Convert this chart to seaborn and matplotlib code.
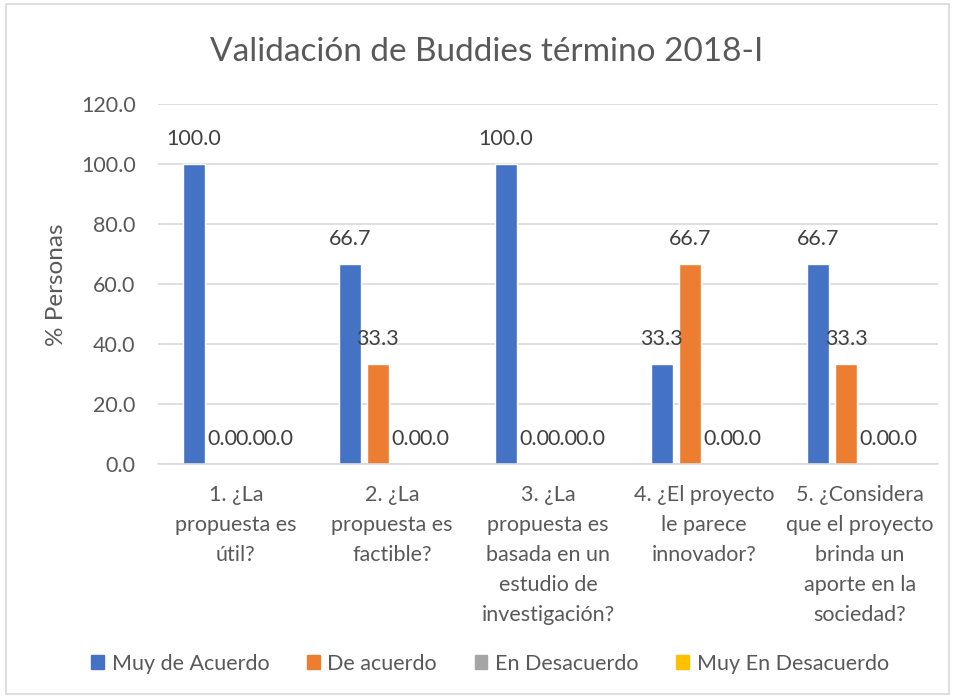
import matplotlib
matplotlib.use("Agg")
import matplotlib.pyplot as plt
import matplotlib.patches as mpatches
import seaborn as sns
import pandas as pd

categories = [
    "1. ¿La\npropuesta es\nútil?",
    "2. ¿La\npropuesta es\nfactible?",
    "3. ¿La\npropuesta es\nbasada en un\nestudio de\ninvestigación?",
    "4. ¿El proyecto\nle parece\ninnovador?",
    "5. ¿Considera\nque el proyecto\nbrinda un\naporte en la\nsociedad?",
]
series_names = ["Muy de Acuerdo", "De acuerdo", "En Desacuerdo", "Muy En Desacuerdo"]
muy_de_acuerdo = [100.0, 66.7, 100.0, 33.3, 66.7]
de_acuerdo = [0.0, 33.3, 0.0, 66.7, 33.3]
en_desacuerdo = [0.0, 0.0, 0.0, 0.0, 0.0]
muy_en_desacuerdo = [0.0, 0.0, 0.0, 0.0, 0.0]
colors = ["#4472C4", "#ED7D31", "#A5A5A5", "#FFC000"]
yticks = [0, 20, 40, 60, 80, 100, 120]

rows = []
for name, vals in zip(series_names, [muy_de_acuerdo, de_acuerdo, en_desacuerdo, muy_en_desacuerdo]):
    for c, v in zip(categories, vals):
        rows.append({"Pregunta": c, "Serie": name, "Valor": v})
df = pd.DataFrame(rows)

sns.set_theme(style="white")
plt.rcParams["font.family"] = ["Lato", "DejaVu Sans"]

FS = 15.5
fig = plt.figure(figsize=(9.55, 6.98), dpi=100)
ax = fig.add_axes([0.1654, 0.3352, 0.8168, 0.5151])

sns.barplot(data=df, x="Pregunta", y="Valor", hue="Serie", order=categories,
            hue_order=series_names, palette=colors, width=0.718, gap=0.214,
            saturation=1, ax=ax, legend=True, errorbar=None)

for cont in ax.containers:
    ax.bar_label(cont, fmt="%.1f", padding=11, fontsize=FS, color="#404040")

ax.set_ylim(0, 120)
ax.set_yticks(yticks)
ax.set_yticklabels([f"{v:.1f}" for v in yticks])
ax.set_xticks(range(len(categories)))
ax.set_xticklabels(categories, linespacing=1.63, multialignment="center")
ax.yaxis.grid(True, color="#D9D9D9", linewidth=1.2)
ax.set_axisbelow(True)
for s in ["top", "right", "left"]:
    ax.spines[s].set_visible(False)
ax.spines["bottom"].set_color("#D9D9D9")
ax.spines["bottom"].set_linewidth(1.2)
ax.tick_params(axis="y", length=0, pad=16, labelsize=FS, labelcolor="#595959")
ax.tick_params(axis="x", length=0, pad=15, labelsize=FS, labelcolor="#595959")
ax.set_xlabel("")
ax.set_ylabel("% Personas", fontsize=17.5, color="#595959", labelpad=10)

fig.text(0.51, 0.926, "Validación de Buddies término 2018-I", fontsize=24,
         color="#595959", ha="center", va="center")

leg = ax.get_legend()
leg.remove()
handles = [mpatches.Patch(color=c) for c in colors]
fig.legend(handles, series_names, loc="center", bbox_to_anchor=(0.513, 0.049),
           ncol=4, frameon=False, fontsize=FS, handlelength=0.6, handleheight=0.6,
           handletextpad=0.35, columnspacing=1.75, labelcolor="#595959")

fig.patches.append(mpatches.Rectangle((0.006, 0.006), 0.988, 0.988, transform=fig.transFigure,
                                      fill=False, edgecolor="#D9D9D9", linewidth=1.2))

fig.savefig("out.png", dpi=100, facecolor="white")
